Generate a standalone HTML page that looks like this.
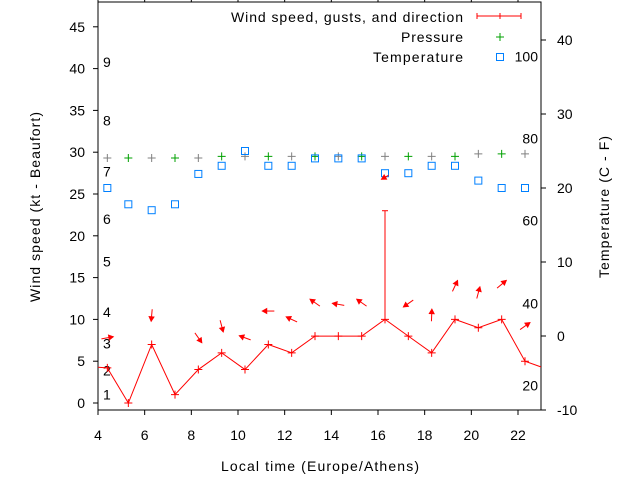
<!DOCTYPE html>
<html><head><meta charset="utf-8"><style>
html,body{margin:0;padding:0;background:#fff;}
svg{display:block;font-family:"Liberation Sans",sans-serif;}
</style></head><body>
<svg id="chart" width="640" height="480" viewBox="0 0 640 480" xmlns="http://www.w3.org/2000/svg"></svg>
<script>
const times=[4.4,5.3,6.3,7.3,8.3,9.3,10.3,11.3,12.3,13.3,14.3,15.3,16.3,17.3,18.3,19.3,20.3,21.3,22.3,23.3];
const windSpeed=[4.2,0,7,1,4,6,4,7,6,8,8,8,10,8,6,10,9,10,5,4];
const gustTimes=[16.3];
const gustValues=[23];
const pressure=[29.3,29.3,29.3,29.3,29.3,29.5,29.5,29.5,29.5,29.5,29.5,29.5,29.5,29.5,29.5,29.5,29.8,29.8,29.8];
const temperature=[20,17.8,17,17.8,21.9,23,25,23,23,24,24,24,22,22,23,23,21,20,20];
const arrowY=[7.8,10.5,7.8,9.2,7.8,11,10,12,11.8,12,27,11.9,10.5,14,13.2,14.2,9.2];
const arrowTimes=[4.4,6.3,8.3,9.3,10.3,11.3,12.3,13.3,14.3,15.3,16.3,17.3,18.3,19.3,20.3,21.3,22.3];
const arrowAngle=[-10,95,55,75,200,180,205,215,190,215,150,145,-88,-65,-75,-40,-35];
const xTicks=[4,6,8,10,12,14,16,18,20,22];
const yTicks=[0,5,10,15,20,25,30,35,40,45];
const y2Ticks=[-10,0,10,20,30,40];
const beaufortLabels=["1","2","3","4","5","6","7","8","9"];
const beaufortY=[1.0,3.9,7.1,10.9,16.9,22.0,27.7,33.8,40.8];
const fLabels=["20","40","60","80","100"];
const fY=[-6.7,4.4,15.6,26.7,37.8];

const L=98,R=541,T=2,B=410;
const X=t=>L+(t-4)*(518-L)/18;
const Y=v=>403-v*8.36;
const Y2=v=>336-v*7.4;
const svg=document.getElementById('chart');
const NS='http://www.w3.org/2000/svg';
function mk(tag,attrs,parent){const e=document.createElementNS(NS,tag);for(const k in attrs)e.setAttribute(k,attrs[k]);(parent||svg).appendChild(e);return e;}
function txt(x,y,s,anchor,parent){const e=mk('text',{x:x,y:y,'font-size':14,'text-anchor':anchor||'middle',fill:'#000'},parent);e.textContent=s;return e;}

const clip=mk('clipPath',{id:'pc'});mk('rect',{x:L,y:T,width:R-L,height:B-T},clip);

const axes=mk('g',{});


mk('rect',{x:L,y:T,width:R-L,height:B-T,fill:'none',stroke:'#000','stroke-width':1},axes);
xTicks.forEach(t=>{mk('line',{x1:X(t),x2:X(t),y1:B,y2:B+5,stroke:'#000'},axes);mk('line',{x1:X(t),x2:X(t),y1:T,y2:T-5,stroke:'#000'},axes);
 const e=txt(X(t),B+30,String(t));});
yTicks.forEach(v=>{mk('line',{x1:L-5,x2:L,y1:Y(v),y2:Y(v),stroke:'#000'},axes);
 const e=txt(L-13,Y(v)+5,String(v),'end');});
y2Ticks.forEach(v=>{mk('line',{x1:R,x2:R+5,y1:Y2(v),y2:Y2(v),stroke:'#000'},axes);
 const e=txt(R+16,Y2(v)+5,String(v),'start');});
beaufortLabels.forEach((s,i)=>{const e=txt(103,Y(beaufortY[i])+5,s,'start');});
fLabels.forEach((s,i)=>{const e=txt(538,Y2(fY[i])+5,s,'end');});

let e=txt(320,471,'Local time (Europe/Athens)');e.setAttribute('textLength','198');
e=txt(0,0,'Wind speed (kt - Beaufort)');e.setAttribute('textLength','190');e.setAttribute('transform','translate(40,207) rotate(-90)');
e=txt(0,0,'Temperature (C - F)');e.setAttribute('textLength','142');e.setAttribute('transform','translate(609,207) rotate(-90)');

const plot=mk('g',{'clip-path':'url(#pc)'});


function plus(x,y,c,g){mk('path',{d:`M${x-4},${y}H${x+4}M${x},${y-4}V${y+4}`,stroke:c,'stroke-width':1,fill:'none'},g);}

const pg=mk('g',{},plot);


pressure.forEach((v,i)=>plus(X(times[i]),Y(v),i%2?'#00a000':'#808080',pg));
const tg=mk('g',{},plot);


temperature.forEach((v,i)=>mk('rect',{x:X(times[i])-3.5,y:Y2(v)-3.5,width:7,height:7,fill:'none',stroke:'#0080ff','stroke-width':1},tg));
const wg=mk('g',{},plot);


mk('polyline',{points:windSpeed.map((v,i)=>X(times[i])+','+Y(v)).join(' '),fill:'none',stroke:'#f00','stroke-width':1},wg);
mk('line',{x1:X(3.3),y1:Y(4.4),x2:X(times[0]),y2:Y(windSpeed[0]),stroke:'#f00'},wg);
windSpeed.forEach((v,i)=>plus(X(times[i]),Y(v),'#f00',wg));
gustTimes.forEach((t,i)=>{const j=times.indexOf(t);mk('line',{x1:X(t),x2:X(t),y1:Y(windSpeed[j]),y2:Y(gustValues[i]),stroke:'#f00'},wg);
 mk('line',{x1:X(t)-3,x2:X(t)+3,y1:Y(gustValues[i]),y2:Y(gustValues[i]),stroke:'#f00'},wg);});
const ag=mk('g',{},plot);


arrowTimes.forEach((t,i)=>{const cx=X(t),cy=Y(arrowY[i]),a=arrowAngle[i]*Math.PI/180,len=i==10?4:6;
 const hx=cx+Math.cos(a)*len,hy=cy+Math.sin(a)*len,tx=cx-Math.cos(a)*len,ty=cy-Math.sin(a)*len;
 mk('line',{x1:tx,y1:ty,x2:hx,y2:hy,stroke:'#f00'},ag);
 const p1x=hx-Math.cos(a-0.5)*5,p1y=hy-Math.sin(a-0.5)*5,p2x=hx-Math.cos(a+0.5)*5,p2y=hy-Math.sin(a+0.5)*5;
 mk('polygon',{points:`${hx},${hy} ${p1x},${p1y} ${p2x},${p2y}`,fill:'#f00',stroke:'#f00'},ag);});

const lg=mk('g',{});


e=txt(463,22,'Wind speed, gusts, and direction','end',lg);e.setAttribute('textLength','232');
mk('path',{d:'M477,16H521M477,13V19M521,13V19M500,13V19',stroke:'#f00',fill:'none'},lg);
e=txt(463,42,'Pressure','end',lg);e.setAttribute('textLength','62');
plus(500,37,'#00a000',lg);
e=txt(463,62,'Temperature','end',lg);e.setAttribute('textLength','90');
mk('rect',{x:496.5,y:53.5,width:7,height:7,fill:'none',stroke:'#0080ff'},lg);
</script>
</body></html>
